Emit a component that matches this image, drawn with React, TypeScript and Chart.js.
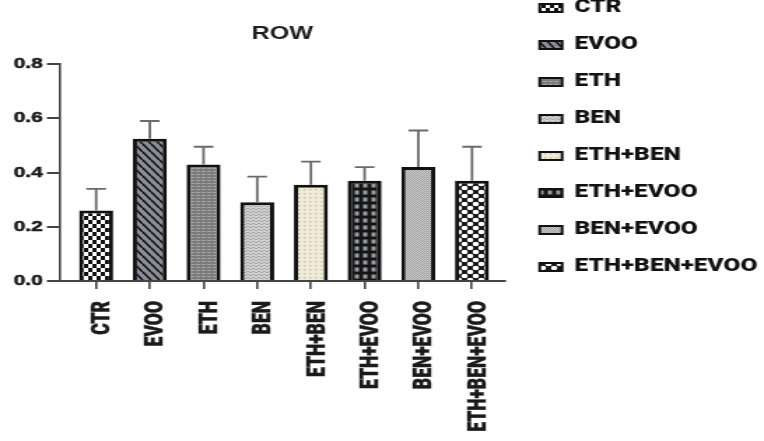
import React, { useEffect, useRef } from 'react';
import { Chart, registerables } from 'chart.js';

Chart.register(...registerables);

// ---------------- data ----------------
const categories = ['CTR', 'EVOO', 'ETH', 'BEN', 'ETH+BEN', 'ETH+EVOO', 'BEN+EVOO', 'ETH+BEN+EVOO'];
const means = [0.26, 0.525, 0.43, 0.29, 0.355, 0.37, 0.42, 0.37];
const sdUpper = [0.08, 0.065, 0.065, 0.095, 0.085, 0.05, 0.135, 0.125];
const yTickValues = [0, 0.2, 0.4, 0.6, 0.8];
const chartTitle = 'ROW';

// ---------------- layout ----------------
const W = 546;
const H = 441;
const STRETCH = 764 / W;

const LABEL_FONT = "Roboto, 'DejaVu Sans Condensed', sans-serif";
const SANS = "'Liberation Sans', Arial, sans-serif";

type Draw = (g: CanvasRenderingContext2D, w: number, h: number) => void;

function tile(w: number, h: number, draw: Draw): CanvasPattern | string {
  const c = document.createElement('canvas');
  c.width = w;
  c.height = h;
  const g = c.getContext('2d')!;
  draw(g, w, h);
  return g.createPattern(c, 'repeat') || '#888';
}

function makePatterns() {
  return [
    // CTR: black/white checker
    tile(6, 8, (g) => {
      g.fillStyle = '#ffffff';
      g.fillRect(0, 0, 6, 8);
      g.fillStyle = '#111111';
      g.fillRect(0, 0, 3, 4);
      g.fillRect(3, 4, 3, 4);
    }),
    // EVOO: diagonal stripes
    tile(6, 8, (g, w, h) => {
      g.fillStyle = '#8d8d9b';
      g.fillRect(0, 0, w, h);
      g.strokeStyle = '#111111';
      g.lineWidth = 1.6;
      for (let k = -1; k <= 1; k++) {
        g.beginPath();
        g.moveTo(k * w, 0);
        g.lineTo((k + 1) * w, h);
        g.stroke();
      }
    }),
    // ETH: medium gray fine texture
    tile(4, 3, (g) => {
      g.fillStyle = '#7b7b7b';
      g.fillRect(0, 0, 4, 3);
      g.fillStyle = '#a5a5a5';
      g.fillRect(0, 0, 3, 1);
    }),
    // BEN: light gray dotted
    tile(4, 3, (g) => {
      g.fillStyle = '#d0d0d0';
      g.fillRect(0, 0, 4, 3);
      g.fillStyle = '#a6a6a6';
      g.fillRect(0, 1, 2, 1);
      g.fillRect(2, 2, 2, 1);
    }),
    // ETH+BEN: beige with dots
    tile(4, 4, (g) => {
      g.fillStyle = '#f0ead6';
      g.fillRect(0, 0, 4, 4);
      g.fillStyle = '#c8c1aa';
      g.fillRect(1, 1, 1.4, 1.4);
    }),
    // ETH+EVOO: dark grid with gray squares
    tile(6, 7, (g) => {
      g.fillStyle = '#151515';
      g.fillRect(0, 0, 6, 7);
      g.fillStyle = '#9c9caa';
      g.fillRect(1.5, 1.5, 3, 4);
    }),
    // BEN+EVOO: fine gray checker
    tile(2, 2, (g) => {
      g.fillStyle = '#d3d3d3';
      g.fillRect(0, 0, 2, 2);
      g.fillStyle = '#9a9a9a';
      g.fillRect(0, 0, 1, 1);
      g.fillRect(1, 1, 1, 1);
    }),
    // ETH+BEN+EVOO: black with white holes (crosshatch)
    tile(8, 8, (g) => {
      g.fillStyle = '#111111';
      g.fillRect(0, 0, 8, 8);
      g.fillStyle = '#ffffff';
      const pts = [[0, 0], [8, 0], [0, 8], [8, 8], [4, 4]];
      pts.forEach(([x, y]) => {
        g.beginPath();
        g.arc(x, y, 2.3, 0, Math.PI * 2);
        g.fill();
      });
    }),
  ];
}

const errorBarsPlugin = {
  id: 'errorBars',
  afterDatasetsDraw(chart: any) {
    const { ctx, scales } = chart;
    const x = scales.x;
    const y = scales.y;
    ctx.save();
    ctx.strokeStyle = '#6a6a6a';
    ctx.lineWidth = 1.8;
    means.forEach((m, i) => {
      const px = x.getPixelForValue(i);
      const top = y.getPixelForValue(m);
      const end = y.getPixelForValue(m + sdUpper[i]);
      ctx.beginPath();
      ctx.moveTo(px, top);
      ctx.lineTo(px, end);
      ctx.moveTo(px - 7, end);
      ctx.lineTo(px + 7, end);
      ctx.stroke();
    });
    ctx.restore();
  },
};

const legendShiftPlugin = {
  id: 'legendShift',
  afterLayout(chart: any) {
    const lg = chart.legend;
    if (lg) {
      lg.left += 5.5;
      lg.right += 5.5;
    }
  },
};

export default function App() {
  const ref = useRef<HTMLCanvasElement>(null);

  useEffect(() => {
    const canvas = ref.current;
    if (!canvas) return;
    const patterns = makePatterns();

    const chart = new Chart(canvas, {
      type: 'bar',
      data: {
        datasets: [
          {
            data: means.map((m, i) => ({ x: i, y: m })) as any,
            backgroundColor: patterns as any,
            borderColor: '#111111',
            borderWidth: 3,
            barPercentage: 0.633,
            categoryPercentage: 1,
          },
        ],
      },
      options: {
        responsive: false,
        animation: false,
        events: [],
        layout: { padding: { top: -20.25, left: 0, right: 10.3, bottom: 0 } },
        scales: {
          x: {
            type: 'linear',
            min: -0.67,
            max: 7.61,
            offset: false,
            afterBuildTicks: (s: any) => {
              s.ticks = categories.map((_, i) => ({ value: i }));
            },
            afterFit: (s: any) => {
              s.height = 160;
            },
            grid: {
              display: true,
              offset: false,
              drawOnChartArea: false,
              drawTicks: true,
              tickLength: 8,
              color: '#444444',
              lineWidth: 1.6,
            },
            border: { display: true, color: '#444444', width: 2 },
            ticks: {
              autoSkip: false,
              minRotation: 90,
              maxRotation: 90,
              padding: 12,
              labelOffset: 5,
              color: '#1a1a1a',
              textStrokeColor: '#1a1a1a',
              textStrokeWidth: 0.4,
              font: { family: LABEL_FONT, size: 17.5, weight: '900' },
              callback: (v: any) => categories[Number(v)] ?? '',
            },
          },
          y: {
            type: 'linear',
            min: 0,
            max: 0.8,
            afterBuildTicks: (s: any) => {
              s.ticks = yTickValues.map((v) => ({ value: v }));
            },
            afterFit: (s: any) => {
              s.width = 43;
            },
            grid: {
              display: true,
              drawOnChartArea: false,
              drawTicks: true,
              tickLength: 9.5,
              color: '#444444',
              lineWidth: 2,
            },
            border: { display: true, color: '#444444', width: 1.6 },
            ticks: {
              padding: 3,
              color: '#1a1a1a',
              textStrokeColor: '#1a1a1a',
              textStrokeWidth: 0.5,
              font: { family: SANS, size: 15, weight: 'bold' },
              callback: (v: any) => Number(v).toFixed(1),
            },
          },
        },
        plugins: {
          title: {
            display: true,
            text: chartTitle,
            fullSize: false,
            color: '#1e1e1e',
            font: { family: SANS, size: 18, weight: 'bold' },
            padding: { top: 43.5, bottom: 19.2 },
          },
          legend: {
            display: true,
            position: 'right',
            align: 'start',
            maxWidth: 175,
            labels: {
              boxWidth: 16,
              boxHeight: 8,
              padding: 19.5,
              color: '#111111',
              font: { family: LABEL_FONT, size: 17.5, weight: '900' },
              generateLabels: () =>
                categories.map((t, i) => ({
                  text: t,
                  fillStyle: patterns[i] as any,
                  strokeStyle: '#111111',
                  lineWidth: 2,
                  hidden: false,
                  index: i,
                  datasetIndex: 0,
                  fontColor: '#111111',
                })),
            },
          },
          tooltip: { enabled: false },
        },
      },
      plugins: [errorBarsPlugin, legendShiftPlugin],
    } as any);

    return () => chart.destroy();
  }, []);

  return (
    <div
      style={{
        position: 'absolute',
        left: 0,
        top: 0,
        width: W,
        height: H,
        transform: `scale(${STRETCH}, 1)`,
        transformOrigin: '0 0',
      }}
    >
      <canvas ref={ref} width={W} height={H} style={{ display: 'block' }} />
    </div>
  );
}
